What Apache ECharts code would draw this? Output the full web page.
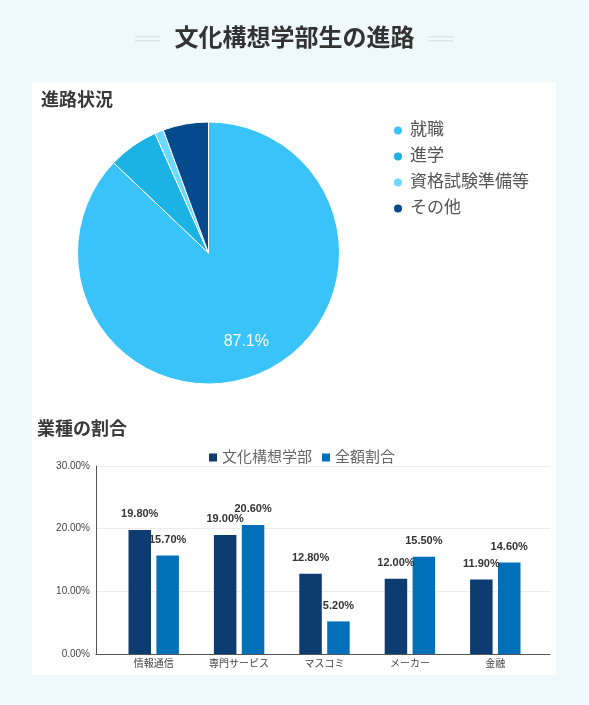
<!DOCTYPE html>
<html><head><meta charset="utf-8">
<style>html,body{margin:0;padding:0;background:#eff8fb;}#c{width:589px;height:705px;}</style>
<script src="https://cdn.jsdelivr.net/npm/echarts@6/dist/echarts.min.js"></script>
</head><body><div id="c"></div>
<script>
// ---- data ----
const pieCategories = ['就職', '進学', '資格試験準備等', 'その他'];
const pieValues = [87.1, 6.2, 1.1, 5.6];
const pieColors = ['#39c3f8', '#1bb2e4', '#6dd9fc', '#054a8c'];

const industryCategories = ['情報通信', '専門サービス', 'マスコミ', 'メーカー', '金融'];
const seriesNames = ['文化構想学部', '全額割合'];
const bunkoValues = [19.8, 19.0, 12.8, 12.0, 11.9];
const allValues = [15.7, 20.6, 5.2, 15.5, 14.6];
const barColors = ['#0c3c70', '#0070b9'];
const yMin = 0, yMax = 30, yInterval = 10;

// ---- style constants ----
const FONT = "'Liberation Sans', Arial, 'Noto Sans CJK JP', sans-serif";
const PIE_CENTER = [208.5, 253];
const PIE_R = 131;

const chart = echarts.init(document.getElementById('c'), null, {renderer: 'canvas'});

const pieData = pieCategories.map((n, i) => ({
  name: n, value: pieValues[i],
  itemStyle: {color: pieColors[i]},
  label: {show: pieValues[i] > 20}
}));

const pctFmt = v => v.toFixed(2) + '%';

chart.setOption({
  animation: false,
  backgroundColor: '#eff8fb',
  textStyle: {fontFamily: FONT},
  graphic: [
    {type: 'rect', z: -10, shape: {x: 32, y: 82, width: 524, height: 593}, style: {fill: '#ffffff'}},
    {type: 'rect', shape: {x: 135, y: 36, width: 25, height: 1.5}, style: {fill: '#d8e7ed'}},
    {type: 'rect', shape: {x: 135, y: 40, width: 25, height: 1.5}, style: {fill: '#d8e7ed'}},
    {type: 'rect', shape: {x: 428, y: 36, width: 25, height: 1.5}, style: {fill: '#d8e7ed'}},
    {type: 'rect', shape: {x: 428, y: 40, width: 25, height: 1.5}, style: {fill: '#d8e7ed'}}
  ],
  title: [
    {text: '文化構想学部生の進路', left: 'center', top: 27, padding: 0,
     textStyle: {fontSize: 24, fontWeight: 'bold', color: '#333', fontFamily: FONT}},
    {text: '進路状況', left: 41, top: 92, padding: 0,
     textStyle: {fontSize: 18, fontWeight: 'bold', color: '#3a3a3a', fontFamily: FONT}},
    {text: '業種の割合', left: 37, top: 421, padding: 0,
     textStyle: {fontSize: 18, fontWeight: 'bold', color: '#3a3a3a', fontFamily: FONT}}
  ],
  legend: [
    {data: pieCategories, orient: 'vertical', left: 392, top: 122, padding: 0,
     icon: 'circle', itemWidth: 14, itemHeight: 10, itemGap: 9,
     textStyle: {fontSize: 17, color: '#555', lineHeight: 17, fontFamily: FONT}},
    {data: seriesNames, orient: 'horizontal', left: 209, top: 450, padding: 0,
     icon: 'rect', itemWidth: 8, itemHeight: 8, itemGap: 10,
     textStyle: {fontSize: 15, color: '#666', fontFamily: FONT}}
  ],
  grid: [
    {left: 96, right: 39, top: 466, bottom: 51},
    {left: 111, right: 51, top: 466, bottom: 51}
  ],
  xAxis: [
    {gridIndex: 0, type: 'value', min: 0, max: 1,
     axisLine: {show: true, lineStyle: {color: '#555'}},
     axisTick: {show: false}, axisLabel: {show: false}, splitLine: {show: false}},
    {gridIndex: 1, type: 'category', data: industryCategories,
     axisLine: {show: false}, axisTick: {show: false},
     axisLabel: {fontSize: 10, color: '#444', margin: 5, fontFamily: FONT}}
  ],
  yAxis: [
    {gridIndex: 0, type: 'value', min: yMin, max: yMax, interval: yInterval,
     axisLine: {show: true, lineStyle: {color: '#555'}},
     axisTick: {show: false},
     axisLabel: {formatter: pctFmt, fontSize: 10, color: '#444', margin: 6, fontFamily: FONT},
     splitLine: {lineStyle: {color: '#ececec'}}},
    {gridIndex: 1, type: 'value', min: yMin, max: yMax, interval: yInterval, show: false}
  ],
  series: [
    {type: 'pie', center: PIE_CENTER, radius: PIE_R, startAngle: 90, clockwise: true,
     data: pieData, legendHoverLink: false,
     itemStyle: {borderColor: '#fff', borderWidth: 1},
     label: {position: 'inside', color: '#fff', fontSize: 16, fontFamily: FONT,
       formatter: p => p.value.toFixed(1) + '%'},
     labelLayout: function (p) {
       const r = p.labelRect;
       const lx = r.x + r.width / 2, ly = r.y + r.height / 2;
       const k = 0.4;
       return {dx: (lx - PIE_CENTER[0]) * k, dy: (ly - PIE_CENTER[1]) * k};
     },
     emphasis: {disabled: true}
    },
    {type: 'bar', name: seriesNames[0], xAxisIndex: 1, yAxisIndex: 1, data: bunkoValues,
     barWidth: 22.5, barGap: '24%', itemStyle: {color: barColors[0]},
     label: {show: true, position: 'top', distance: 10, formatter: p => pctFmt(p.value),
       fontSize: 11, fontWeight: 'bold', color: '#333', fontFamily: FONT}},
    {type: 'bar', name: seriesNames[1], xAxisIndex: 1, yAxisIndex: 1, data: allValues,
     barWidth: 22.5, barGap: '24%', itemStyle: {color: barColors[1]},
     label: {show: true, position: 'top', distance: 10, formatter: p => pctFmt(p.value),
       fontSize: 11, fontWeight: 'bold', color: '#333', fontFamily: FONT}}
  ]
});
</script></body></html>
